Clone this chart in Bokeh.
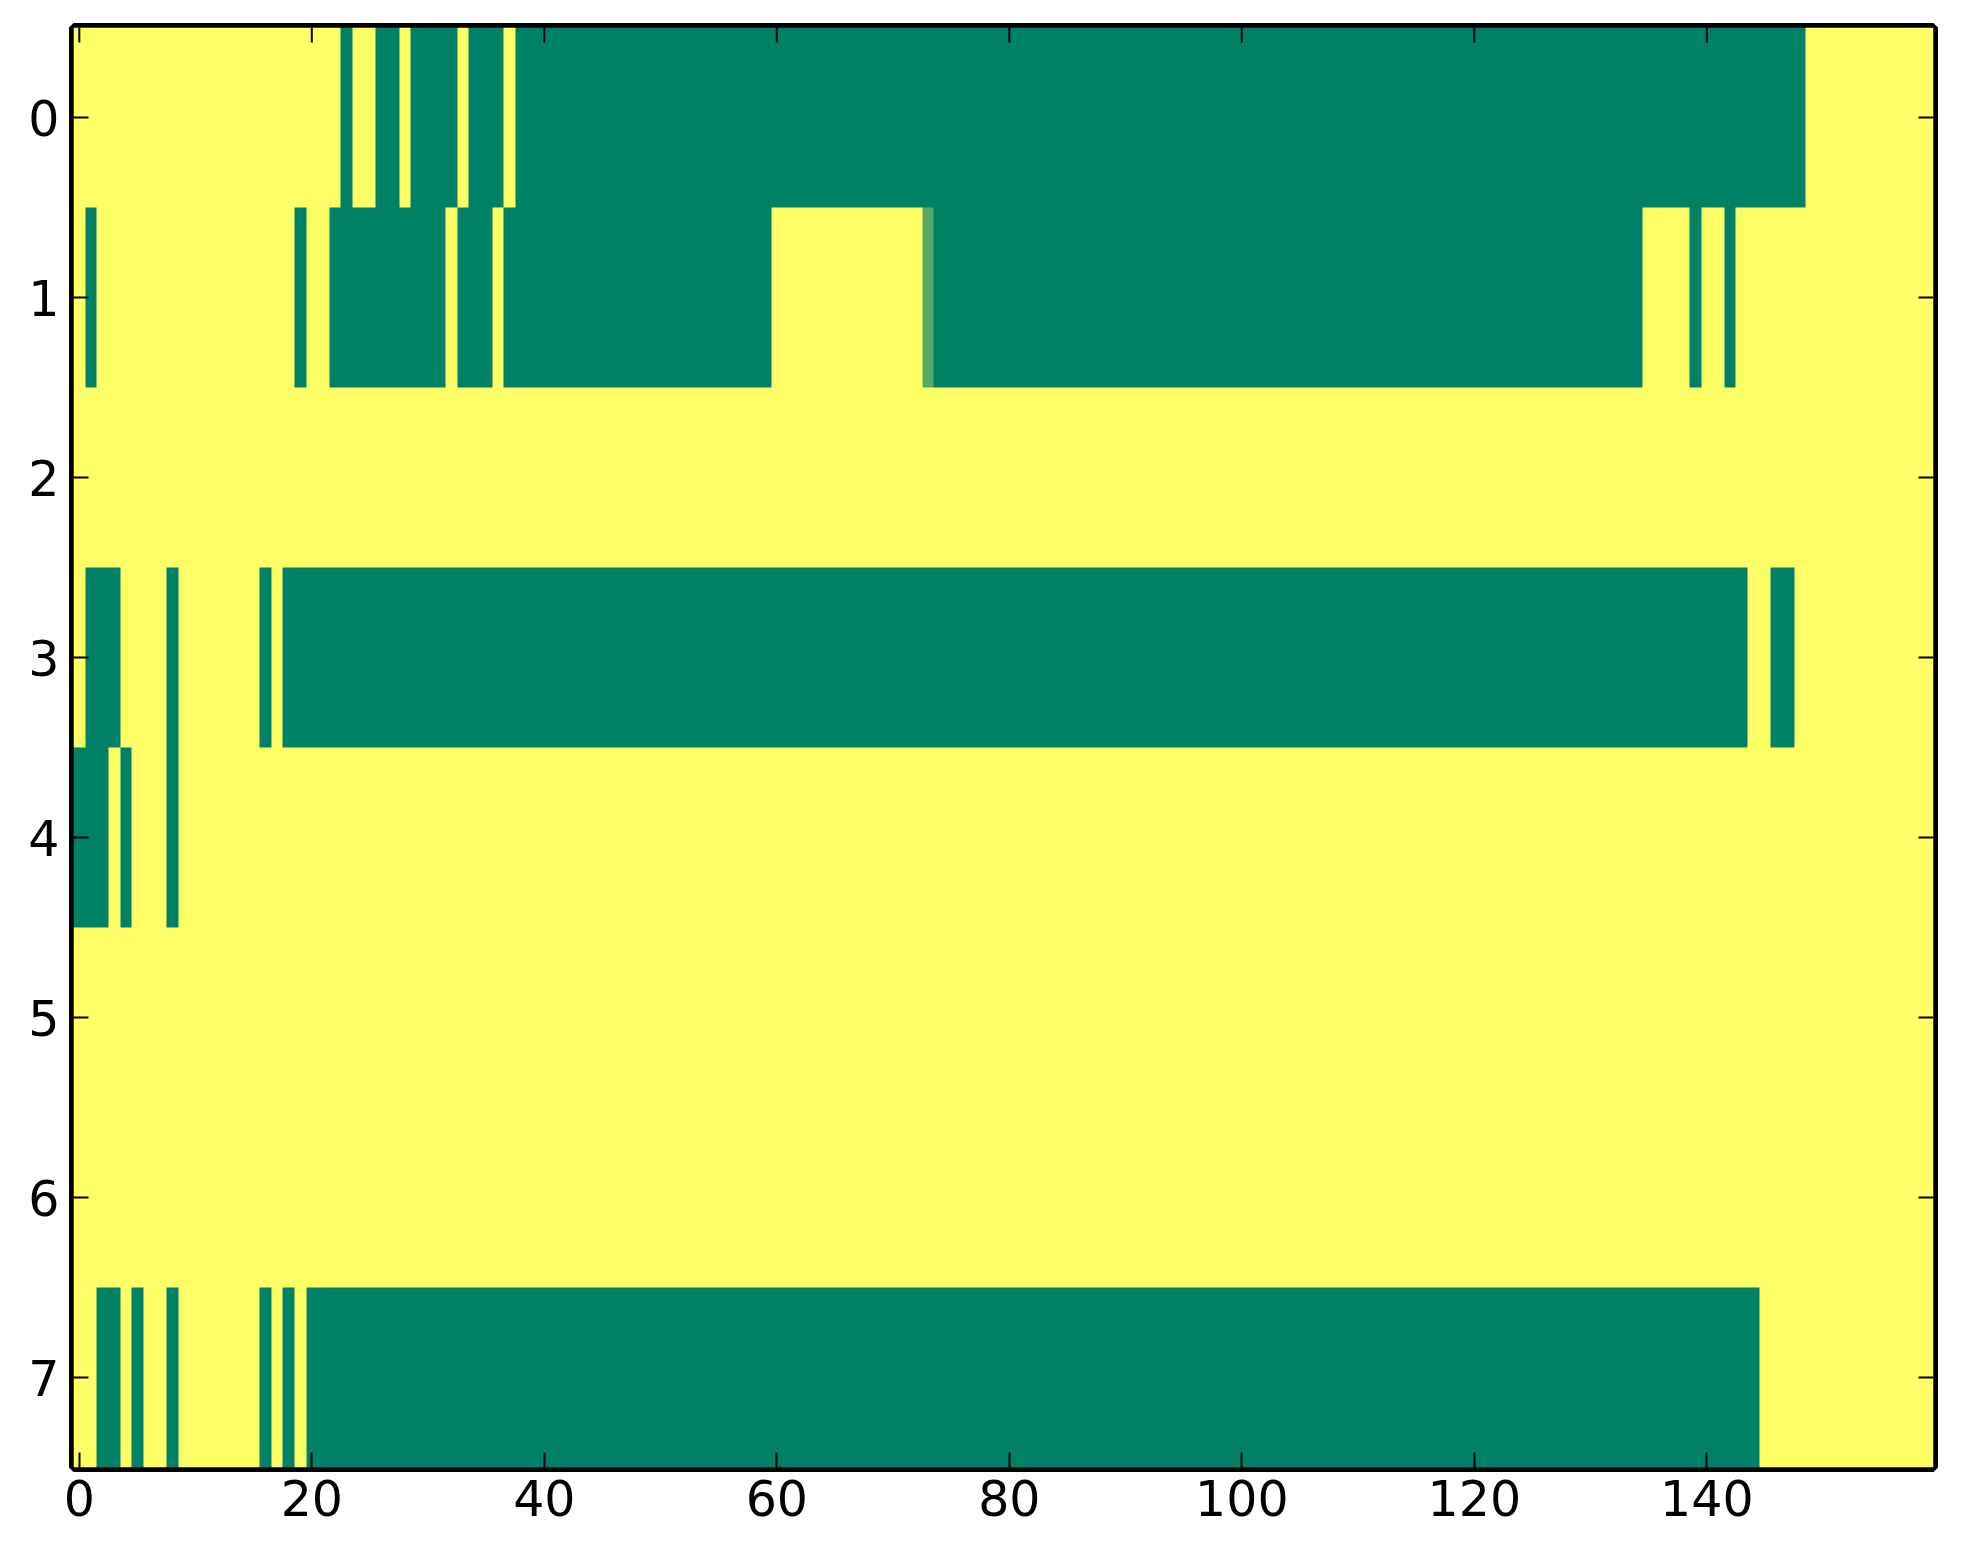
import numpy as np
from bokeh.plotting import figure
from bokeh.models import LinearColorMapper, FixedTicker, Range1d
from bokeh.embed import file_html
from bokeh.resources import INLINE

# ---- data: 8 rows x 160 columns, value 1 (yellow) except listed runs of 0 (green) ----
n_rows = 8
n_cols = 160
row0_zero_runs = [(23, 23), (26, 27), (29, 32), (34, 36), (38, 148)]
row1_zero_runs = [(1, 1), (19, 19), (22, 31), (33, 35), (37, 59), (74, 134), (139, 139), (142, 142)]
row2_zero_runs = []
row3_zero_runs = [(1, 3), (8, 8), (16, 16), (18, 143), (146, 147)]
row4_zero_runs = [(0, 2), (4, 4), (8, 8)]
row5_zero_runs = []
row6_zero_runs = []
row7_zero_runs = [(2, 3), (5, 5), (8, 8), (16, 16), (18, 18), (20, 144)]
partial_cells = [(1, 73, 0.34)]  # (row, col, value)

x_ticks = [0, 20, 40, 60, 80, 100, 120, 140]
y_ticks = [0, 1, 2, 3, 4, 5, 6, 7]

all_runs = [row0_zero_runs, row1_zero_runs, row2_zero_runs, row3_zero_runs,
            row4_zero_runs, row5_zero_runs, row6_zero_runs, row7_zero_runs]

M = np.ones((n_rows, n_cols))
for r, runs in enumerate(all_runs):
    for a, b in runs:
        M[r, a:b + 1] = 0.0
for r, c, v in partial_cells:
    M[r, c] = v

# matplotlib "summer" colormap
def summer_hex(t):
    r = t
    g = 0.5 + 0.5 * t
    b = 0.4
    return "#%02x%02x%02x" % (int(round(r * 255)), int(round(g * 255)), int(round(b * 255)))

palette = [summer_hex(i / 255.0) for i in range(256)]
mapper = LinearColorMapper(palette=palette, low=0.0, high=1.0)

x_lo, x_hi = -0.5, n_cols - 0.5
y_top, y_bot = -0.5, n_rows - 0.5

p = figure(
    output_backend="svg", toolbar_location=None,
    frame_width=1860, frame_height=1440,
    x_range=Range1d(x_lo, x_hi), y_range=Range1d(y_bot, y_top),
    min_border_left=73, min_border_top=27, min_border_right=22, min_border_bottom=89,
    background_fill_color="white", border_fill_color="white",
)
p.image(image=[M], x=x_lo, y=y_top, dw=n_cols, dh=n_rows, color_mapper=mapper)

p.grid.visible = False
p.outline_line_color = "black"
p.outline_line_width = 9
p.outline_line_alpha = 1.0

font = "DejaVu Sans"
fs = "49px"

for ax in [p.xaxis[0], p.yaxis[0]]:
    ax.axis_line_color = None
    ax.major_tick_in = 15
    ax.major_tick_out = 0
    ax.minor_tick_line_color = None
    ax.major_tick_line_width = 2
    ax.major_tick_line_color = "black"
    ax.major_label_text_font = font
    ax.major_label_text_font_size = fs
    ax.major_label_text_color = "black"

p.xaxis[0].ticker = FixedTicker(ticks=x_ticks)
p.yaxis[0].ticker = FixedTicker(ticks=y_ticks)
p.xaxis[0].major_label_standoff = 12
p.yaxis[0].major_label_standoff = 14

# inward ticks on the top and right edges (mirroring the bottom/left tick positions)
p.ray(x=x_ticks, y=[y_top] * len(x_ticks), length=15, length_units="screen",
      angle=-np.pi / 2, line_color="black", line_width=2)
p.ray(x=[x_hi] * len(y_ticks), y=y_ticks, length=15, length_units="screen",
      angle=np.pi, line_color="black", line_width=2)

open("out.html", "w").write(file_html(p, INLINE))
